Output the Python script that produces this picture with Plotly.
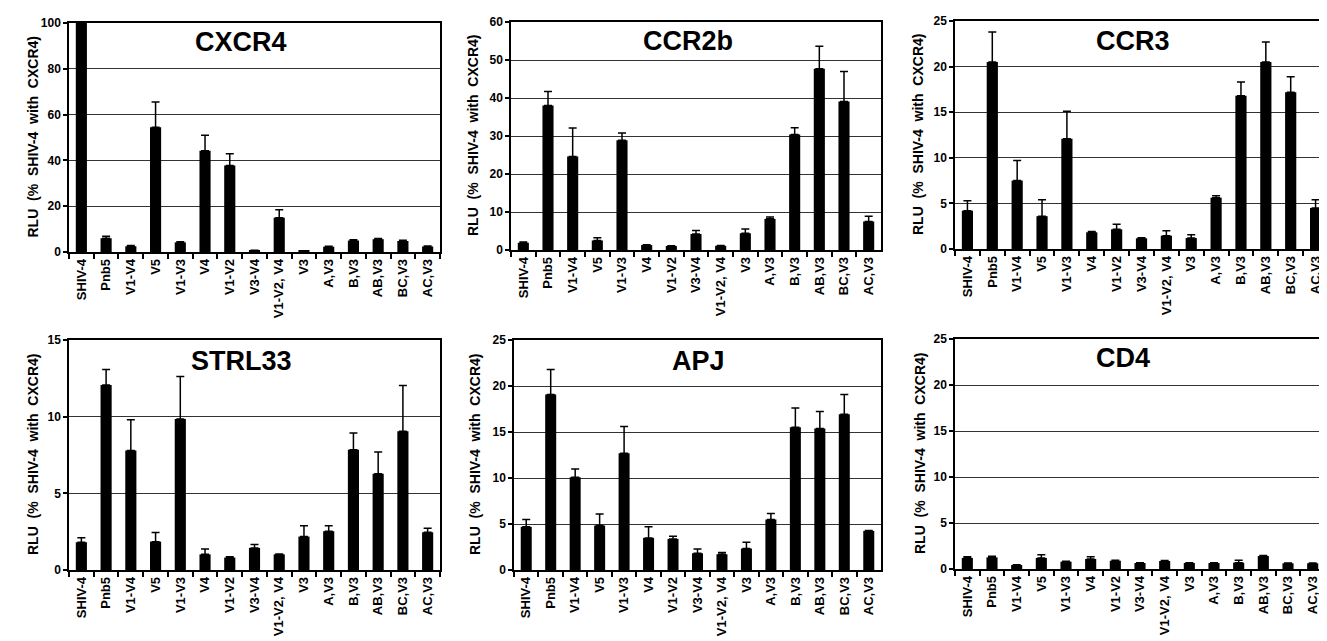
import plotly.graph_objects as go

categories = ["SHIV-4", "Pnb5", "V1-V4", "V5", "V1-V3", "V4", "V1-V2", "V3-V4",
              "V1-V2, V4", "V3", "A,V3", "B,V3", "AB,V3", "BC,V3", "AC,V3"]

panel_titles = ["CXCR4", "CCR2b", "CCR3", "STRL33", "APJ", "CD4"]

cxcr4_vals = [100, 6.0, 2.5, 54.5, 4.2, 44.2, 37.8, 0.7, 15.0, 0.5, 2.3, 5.0, 5.6, 4.8, 2.4]
cxcr4_err = [0, 0.9, 0.3, 11.0, 0.3, 6.8, 5.1, 0.1, 3.5, 0.1, 0.2, 0.3, 0.3, 0.3, 0.2]

ccr2b_vals = [1.9, 38.0, 24.6, 2.5, 28.9, 1.3, 1.05, 4.2, 1.1, 4.4, 8.2, 30.4, 47.7, 39.1, 7.5]
ccr2b_err = [0.2, 3.7, 7.5, 0.7, 1.9, 0.1, 0.1, 0.9, 0.1, 1.1, 0.5, 1.8, 5.9, 7.9, 1.4]

ccr3_vals = [4.2, 20.5, 7.5, 3.6, 12.1, 1.83, 2.16, 1.17, 1.46, 1.2, 5.63, 16.8, 20.5, 17.2, 4.5]
ccr3_err = [1.1, 3.3, 2.2, 1.8, 3.0, 0.1, 0.55, 0.05, 0.55, 0.35, 0.22, 1.5, 2.2, 1.7, 0.9]

strl33_vals = [1.81, 12.06, 7.8, 1.85, 9.85, 1.02, 0.81, 1.44, 1.02, 2.18, 2.53, 7.85, 6.28, 9.05, 2.46]
strl33_err = [0.3, 1.02, 2.0, 0.6, 2.77, 0.35, 0.05, 0.22, 0.03, 0.7, 0.35, 1.09, 1.42, 2.98, 0.27]

apj_vals = [4.69, 19.08, 10.07, 4.83, 12.68, 3.49, 3.38, 1.82, 1.71, 2.33, 5.49, 15.52, 15.37, 16.93, 4.25]
apj_err = [0.8, 2.72, 0.9, 1.27, 2.91, 1.2, 0.29, 0.47, 0.18, 0.69, 0.65, 2.1, 1.85, 2.15, 0.05]

cd4_vals = [1.2, 1.27, 0.43, 1.2, 0.8, 1.09, 0.9, 0.65, 0.87, 0.65, 0.65, 0.69, 1.41, 0.62, 0.62]
cd4_err = [0.14, 0.11, 0.03, 0.36, 0.05, 0.25, 0.05, 0.03, 0.05, 0.03, 0.03, 0.25, 0.05, 0.03, 0.03]

y_max = [100, 60, 25, 15, 25, 25]
y_dtick = [20, 10, 5, 5, 5, 5]

values = [cxcr4_vals, ccr2b_vals, ccr3_vals, strl33_vals, apj_vals, cd4_vals]
errors = [cxcr4_err, ccr2b_err, ccr3_err, strl33_err, apj_err, cd4_err]

W, H = 1327, 641
# plot areas in pixels: (left, right, top, bottom)
boxes = [(61, 432, 15, 244), (503, 873, 14, 242), (947, 1320, 13, 241),
         (61, 432, 332, 562), (506, 873, 332, 562), (947, 1317, 331, 561)]
title_pos = [(233, 34), (680, 33), (1125, 33), (233, 353), (690, 353), (1115, 350)]
ytitle_x = [25, 465, 910, 25, 467, 912]

FONT = "Liberation Sans, Arial, sans-serif"

fig = go.Figure()
layout = dict(width=W, height=H, margin=dict(l=0, r=0, t=0, b=0), autosize=False,
              paper_bgcolor="white", plot_bgcolor="white", showlegend=False,
              font=dict(family=FONT, color="black"), bargap=0.55)
annotations = []

for i in range(6):
    n = i + 1
    xa = "x" if n == 1 else f"x{n}"
    ya = "y" if n == 1 else f"y{n}"
    fig.add_trace(go.Bar(
        x=categories, y=values[i], xaxis=xa, yaxis=ya,
        marker=dict(color="black", line=dict(width=0)),
        width=0.45,
        error_y=dict(type="data", symmetric=False, array=errors[i],
                     arrayminus=[0] * len(errors[i]), color="black",
                     thickness=1.5, width=4),
    ))
    l, r, t, b = boxes[i]
    layout["xaxis" if n == 1 else f"xaxis{n}"] = dict(
        domain=[l / W, r / W], anchor=ya, type="category",
        showline=True, linecolor="black", linewidth=1.5, mirror=True,
        ticks="outside", tickson="boundaries", ticklen=5, tickcolor="black", tickwidth=1.5,
        tickangle=-90, tickfont=dict(size=13, family=FONT, weight="bold"),
        showgrid=False, automargin=False, fixedrange=True,
    )
    layout["yaxis" if n == 1 else f"yaxis{n}"] = dict(
        domain=[1 - b / H, 1 - t / H], anchor=xa, range=[0, y_max[i]], dtick=y_dtick[i],
        showline=True, linecolor="black", linewidth=1.5, mirror=True,
        ticks="outside", ticklen=4, tickcolor="black", tickwidth=1.5,
        tickfont=dict(size=12, family=FONT, weight="bold"),
        showgrid=True, gridcolor="#333333", gridwidth=1, zeroline=False,
        automargin=False, fixedrange=True,
    )
    tx, ty = title_pos[i]
    annotations.append(dict(text=f"<b>{panel_titles[i]}</b>", x=tx / W, y=1 - ty / H,
                            xref="paper", yref="paper", showarrow=False,
                            font=dict(size=27, family=FONT, color="black"),
                            xanchor="center", yanchor="middle"))
    annotations.append(dict(text="<b>RLU\u00a0\u00a0(%\u00a0\u00a0SHIV-4\u00a0\u00a0with\u00a0\u00a0CXCR4)</b>",
                            x=ytitle_x[i] / W, y=1 - (t + b) / 2 / H,
                            xref="paper", yref="paper", showarrow=False, textangle=-90,
                            font=dict(size=14, family=FONT, color="black"),
                            xanchor="center", yanchor="middle"))

layout["annotations"] = annotations
fig.update_layout(**layout)
fig.write_html("out.html")
